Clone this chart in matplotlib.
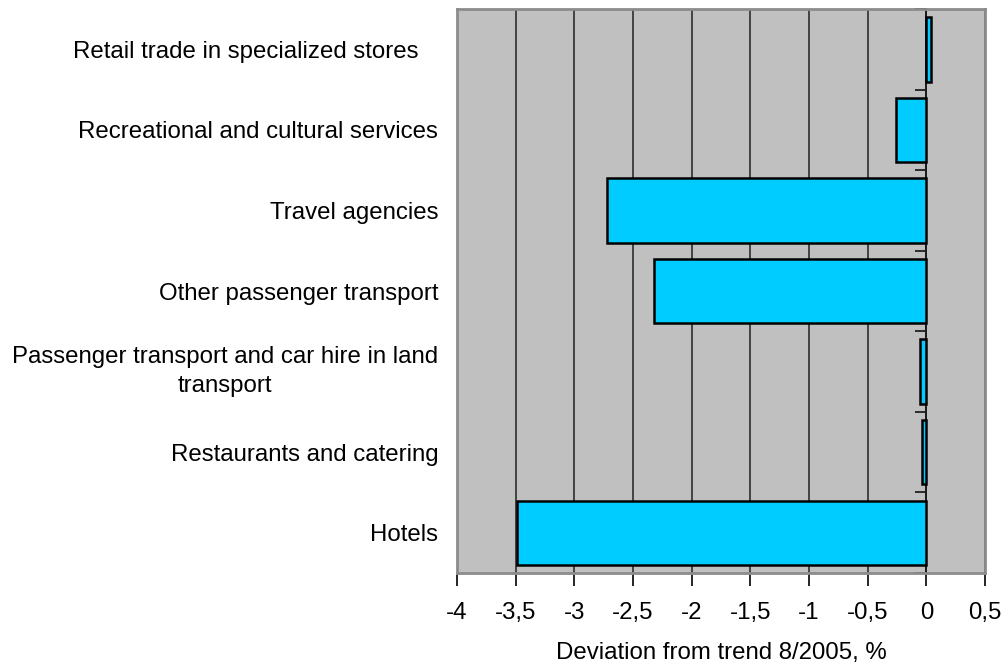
import numpy as np
import matplotlib
matplotlib.use("Agg")
import matplotlib.pyplot as plt
from matplotlib.ticker import FuncFormatter

plt.rcParams['font.family'] = ['Liberation Sans', 'DejaVu Sans']

categories = [
    "Retail trade in specialized stores   ",
    "Recreational and cultural services",
    "Travel agencies",
    "Other passenger transport",
    "Passenger transport and car hire in land\ntransport",
    "Restaurants and catering",
    "Hotels",
]
deviation = [0.04, -0.26, -2.72, -2.32, -0.05, -0.04, -3.49]
x_ticks = np.arange(-4.0, 0.51, 0.5)

FS = 17.3

fig = plt.figure(figsize=(10.06, 6.66), dpi=100)
ax = fig.add_axes([0.4543, 0.1396, 0.5248, 0.8469])
ax.set_facecolor('#C0C0C0')

pos = np.arange(len(categories))
ax.barh(pos, deviation, height=0.8, color='#00CCFF', edgecolor='black',
        linewidth=1.8, zorder=3)

ax.set_xlim(-4, 0.5)
ax.set_ylim(len(categories) - 0.5, -0.5)
ax.set_xticks(x_ticks)
ax.xaxis.set_major_formatter(FuncFormatter(lambda v, p: f"{v:g}".replace('.', ',')))
ax.grid(axis='x', color='#202020', linewidth=1.1, zorder=1)
ax.set_axisbelow(True)

ax.set_yticks(pos)
ax.set_yticklabels(categories, multialignment='center', linespacing=1.45)
for lbl in ax.get_yticklabels():
    if '\n' in lbl.get_text():
        lbl.set_verticalalignment('center')
ax.tick_params(axis='y', length=0, pad=13.5, labelsize=FS)
ax.tick_params(axis='x', length=9, width=1.2, color='black', direction='out',
               pad=12, labelsize=FS)

for s in ax.spines.values():
    s.set_color('#8C8C8C')
    s.set_linewidth(2)

# category axis sitting at zero, with separator ticks between categories
zero_frac = (0 - ax.get_xlim()[0]) / (ax.get_xlim()[1] - ax.get_xlim()[0])
sec = ax.secondary_yaxis(zero_frac)
sec.set_yticks(np.arange(len(categories) + 1) - 0.5)
sec.set_yticklabels([])
sec.tick_params(axis='y', direction='in', length=8, width=1.3, color='#202020')
for s in sec.spines.values():
    s.set_color('black')
    s.set_linewidth(1.3)

ax.set_xlabel("Deviation from trend 8/2005, %", fontsize=FS, labelpad=13)

fig.savefig("out.png", dpi=100, facecolor='white')
